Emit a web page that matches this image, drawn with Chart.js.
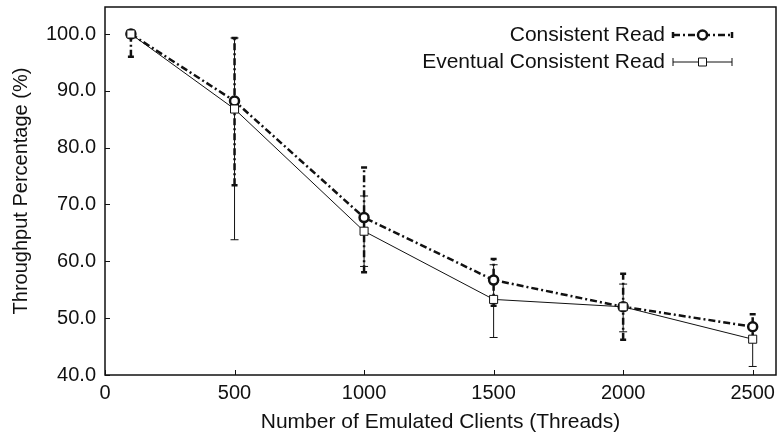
<!DOCTYPE html>
<html>
<head>
<meta charset="utf-8">
<script src="https://cdn.jsdelivr.net/npm/chart.js@4.4.1/dist/chart.umd.min.js"></script>
<style>
  html, body { margin: 0; padding: 0; background: #fff; }
</style>
</head>
<body>
<canvas id="chart" width="778" height="435"></canvas>
<script>
// values
const clients = [100, 500, 1000, 1500, 2000, 2500]
const consistentRead = [100.0, 88.2, 67.7, 56.7, 52.0, 48.5]
const consistentLow = [96.0, 73.4, 58.1, 52.2, 46.2, 46.3]
const consistentHigh = [100.0, 99.3, 76.5, 60.4, 57.8, 50.7]
const eventualRead = [100.0, 86.8, 65.3, 53.3, 52.0, 46.3]
const eventualLow = [100.0, 63.8, 59.1, 46.6, 47.6, 41.5]
const eventualHigh = [100.0, 99.3, 71.5, 59.4, 56.0, 48.5]
const xTicks = [0, 500, 1000, 1500, 2000, 2500]
const yTicks = [40, 50, 60, 70, 80, 90, 100]

const FONT = 'Liberation Sans, Arial, Helvetica, sans-serif'
const INK = '#111'
const dashDot = [7, 3, 2, 3]

const toPoints = (ys) => clients.map((x, i) => ({ x: x, y: ys[i] }))

// error bars, frame, inward ticks and the legend
const extrasPlugin = {
  id: 'extras',
  beforeDatasetsDraw(chart) {
    const { ctx } = chart
    const xs = chart.scales.x
    const ys = chart.scales.y
    const bars = [
      { low: consistentLow, high: consistentHigh, width: 2.5, dash: dashDot, cap: 3 },
      { low: eventualLow, high: eventualHigh, width: 1, dash: [], cap: 4 },
    ]
    ctx.save()
    ctx.strokeStyle = INK
    bars.forEach((b) => {
      clients.forEach((c, i) => {
        const px = xs.getPixelForValue(c)
        const pLow = ys.getPixelForValue(b.low[i])
        const pHigh = ys.getPixelForValue(b.high[i])
        if (Math.abs(pLow - pHigh) < 1) return
        ctx.lineWidth = b.width
        ctx.setLineDash(b.dash)
        ctx.beginPath()
        ctx.moveTo(px, pLow)
        ctx.lineTo(px, pHigh)
        ctx.stroke()
        ctx.setLineDash([])
        ctx.beginPath()
        ctx.moveTo(px - b.cap, pLow)
        ctx.lineTo(px + b.cap, pLow)
        ctx.moveTo(px - b.cap, pHigh)
        ctx.lineTo(px + b.cap, pHigh)
        ctx.stroke()
      })
    })
    ctx.restore()
  },
  afterDraw(chart) {
    const { ctx, chartArea: a } = chart
    const xs = chart.scales.x
    const ys = chart.scales.y
    ctx.save()
    ctx.strokeStyle = INK
    ctx.lineWidth = 1.5
    ctx.strokeRect(a.left, a.top, a.right - a.left, a.bottom - a.top)
    ctx.lineWidth = 1
    ctx.beginPath()
    xTicks.forEach((t) => {
      const px = Math.round(xs.getPixelForValue(t)) + 0.5
      ctx.moveTo(px, a.bottom)
      ctx.lineTo(px, a.bottom - 5)
    })
    yTicks.forEach((t) => {
      const py = Math.round(ys.getPixelForValue(t)) + 0.5
      ctx.moveTo(a.left, py)
      ctx.lineTo(a.left + 5, py)
    })
    ctx.stroke()

    // legend, text on the left and a line sample on the right
    const items = [
      { label: 'Consistent Read', ds: chart.data.datasets[0], cap: 3 },
      { label: 'Eventual Consistent Read', ds: chart.data.datasets[1], cap: 4 },
    ]
    ctx.font = '21px ' + FONT
    ctx.fillStyle = INK
    ctx.textAlign = 'right'
    ctx.textBaseline = 'middle'
    items.forEach((it, i) => {
      const y = 35 + i * 27
      ctx.fillText(it.label, 665, y)
      const x0 = 673, x1 = 732, xm = 702.5
      ctx.lineWidth = it.ds.borderWidth
      ctx.setLineDash(it.ds.borderDash || [])
      ctx.beginPath()
      ctx.moveTo(x0, y)
      ctx.lineTo(x1, y)
      ctx.stroke()
      ctx.setLineDash([])
      ctx.beginPath()
      ctx.moveTo(x0, y - it.cap)
      ctx.lineTo(x0, y + it.cap)
      ctx.moveTo(x1, y - it.cap)
      ctx.lineTo(x1, y + it.cap)
      ctx.stroke()
      ctx.fillStyle = '#fff'
      ctx.lineWidth = it.ds.pointBorderWidth
      ctx.beginPath()
      if (it.ds.pointStyle === 'circle') {
        ctx.arc(xm, y, it.ds.pointRadius, 0, Math.PI * 2)
      } else {
        ctx.rect(xm - 4, y - 4, 8, 8)
      }
      ctx.fill()
      ctx.stroke()
      ctx.fillStyle = INK
    })
    ctx.restore()
  },
}

new Chart(document.getElementById('chart'), {
  type: 'line',
  data: {
    datasets: [
      {
        label: 'Consistent Read',
        data: toPoints(consistentRead),
        borderColor: INK,
        borderWidth: 2.5,
        borderDash: dashDot,
        pointStyle: 'circle',
        pointRadius: 4.5,
        pointBorderWidth: 2.5,
        pointBackgroundColor: '#fff',
        pointBorderColor: INK,
        tension: 0,
        order: 2,
      },
      {
        label: 'Eventual Consistent Read',
        data: toPoints(eventualRead),
        borderColor: INK,
        borderWidth: 1,
        pointStyle: 'rect',
        pointRadius: 5.7,
        pointBorderWidth: 1,
        pointBackgroundColor: '#fff',
        pointBorderColor: INK,
        tension: 0,
        order: 1,
      },
    ],
  },
  options: {
    responsive: false,
    animation: false,
    devicePixelRatio: 1,
    layout: { autoPadding: false, padding: { top: 7, right: 2, left: 0, bottom: 0 } },
    plugins: {
      legend: { display: false },
      tooltip: { enabled: false },
    },
    scales: {
      x: {
        type: 'linear',
        min: 0,
        max: 2590,
        afterBuildTicks: (scale) => {
          scale.ticks = xTicks.map((v) => ({ value: v }))
        },
        afterFit: (scale) => {
          scale.height = 60
          scale.paddingLeft = 0
          scale.paddingRight = 0
        },
        grid: { display: false, drawTicks: false },
        border: { display: false },
        ticks: {
          color: INK,
          padding: 6,
          maxRotation: 0,
          font: { family: FONT, size: 20 },
          callback: (v) => String(v),
        },
        title: {
          display: true,
          text: 'Number of Emulated Clients (Threads)',
          color: INK,
          font: { family: FONT, size: 21 },
          padding: { top: 4, bottom: 0 },
        },
      },
      y: {
        type: 'linear',
        min: 40,
        max: 104.75,
        afterBuildTicks: (scale) => {
          scale.ticks = yTicks.map((v) => ({ value: v }))
        },
        afterFit: (scale) => {
          scale.width = 105
          scale.paddingTop = 0
          scale.paddingBottom = 0
        },
        grid: { display: false, drawTicks: false },
        border: { display: false },
        ticks: {
          color: INK,
          padding: 9,
          font: { family: FONT, size: 20 },
          callback: (v) => Number(v).toFixed(1),
        },
        title: {
          display: true,
          text: 'Throughput Percentage (%)',
          color: INK,
          font: { family: FONT, size: 20 },
          padding: { top: 9, bottom: 0 },
        },
      },
    },
  },
  plugins: [extrasPlugin],
})
</script>
</body>
</html>
